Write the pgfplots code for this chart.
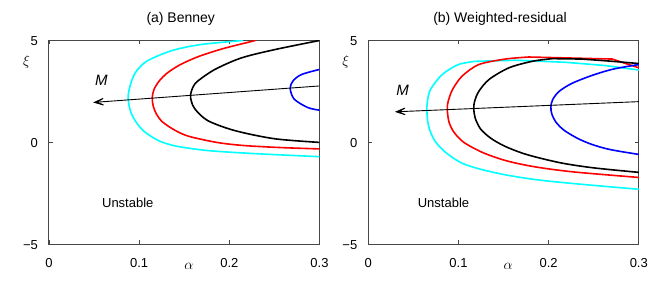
\documentclass[border=0pt]{standalone}
\usepackage{fontspec}
\setmainfont{Liberation Sans}
\usepackage{pgfplots}
\pgfplotsset{compat=1.18}
\usetikzlibrary{arrows.meta}
\definecolor{mcyan}{rgb}{0,1,1}
\definecolor{mred}{rgb}{1,0,0}
\definecolor{mblue}{rgb}{0,0,1}

\pgfplotsset{
  myax/.style={
    scale only axis, width=270.5pt, height=203.8pt,
    xmin=0, xmax=0.3, ymin=-5, ymax=5,
    xtick={0,0.1,0.2,0.3}, xticklabels={0,0.1,0.2,0.3},
    ytick={-5,0,5}, yticklabels={−5,0,5},
    tick label style={font=\fontsize{13}{15}\selectfont},
    xticklabel style={yshift=-11pt},
    yticklabel style={xshift=-7.5pt, yshift=-1pt},
    major tick length=4pt,
    axis line style={draw=black!72, line width=1pt},
    every tick/.style={black!72, line width=0.8pt},
    xlabel={$\alpha$}, ylabel={$\xi$},
    label style={font=\fontsize{15}{17}\selectfont},
    xlabel style={at={(axis description cs:0.517,-0.107)}, anchor=center},
    ylabel style={at={(axis description cs:-0.083,0.893)}, rotate=-90, anchor=center},
    title style={at={(axis description cs:0.5,1)}, anchor=base, yshift=12.3pt, xshift=-3.5pt,
                 font=\fontsize{14}{16}\selectfont},
    clip=true,
  },
  crv/.style={line width=1.6pt, smooth, tension=0.5},
  seg/.style={line width=1.6pt},
  arr/.style={black, line width=0.9pt, -{Stealth[length=16pt, width=12pt, inset=11pt]}},
}

\begin{document}
\begin{tikzpicture}
\useasboundingbox (0,0) rectangle (665pt,294pt);

% ---------------- (a) Benney ----------------
\begin{axis}[myax, at={(49pt,49.7pt)}, anchor=south west, title={(a) Benney}]
\addplot[mcyan, crv] coordinates {
 (0.215,5.0) (0.168,4.8) (0.136,4.5) (0.109,4.0) (0.097,3.5) (0.0915,3.0)
 (0.0885,2.5) (0.0878,2.2) (0.0888,1.8) (0.0915,1.4) (0.0965,1.0) (0.104,0.6)
 (0.113,0.3) (0.125,0.02) (0.143,-0.2) (0.176,-0.4) (0.228,-0.55) (0.300,-0.70)};
\addplot[mred, crv] coordinates {
 (0.229,5.0) (0.193,4.6) (0.165,4.2) (0.145,3.8) (0.131,3.4) (0.122,3.0)
 (0.1165,2.6) (0.1145,2.2) (0.1155,1.8) (0.119,1.4) (0.126,1.0) (0.1395,0.6)
 (0.155,0.3) (0.186,0.0) (0.215,-0.15) (0.255,-0.25) (0.300,-0.32)};
\addplot[black, crv] coordinates {
 (0.300,5.0) (0.250,4.55) (0.213,4.14) (0.184,3.58) (0.165,3.01) (0.1595,2.7)
 (0.157,2.33) (0.158,2.0) (0.162,1.63) (0.176,1.07) (0.206,0.58) (0.250,0.18)
 (0.300,0.0)};
\addplot[mblue, crv] coordinates {
 (0.300,3.58) (0.280,3.33) (0.2705,3.01) (0.2675,2.64) (0.272,2.12)
 (0.287,1.71) (0.300,1.58)};
\addplot[arr] coordinates {(0.3,2.77) (0.049,1.96)};
\node[font=\fontsize{15}{17}\selectfont\itshape] at (axis cs:0.058,3.06) {M};
\node[anchor=base west, font=\fontsize{13}{15}\selectfont] at (axis cs:0.055,-3.19) {Unstable};
\end{axis}

% ---------------- (b) Weighted-residual ----------------
\begin{axis}[myax, at={(368.3pt,49.7pt)}, anchor=south west, title={(b) Weighted-residual}]
% cyan
\addplot[mcyan, crv] coordinates {
 (0.119,3.98) (0.100,3.82) (0.082,3.33) (0.069,2.6) (0.0655,2.0) (0.065,1.55)
 (0.066,1.0) (0.069,0.5) (0.075,0.0) (0.086,-0.5) (0.103,-1.0) (0.123,-1.3)
 (0.153,-1.6) (0.190,-1.85) (0.235,-2.05) (0.300,-2.30)};
\addplot[mcyan, seg] coordinates {
 (0.119,3.98) (0.163,4.03) (0.219,3.93) (0.263,3.77) (0.300,3.55)};
% red
\addplot[mred, crv] coordinates {
 (0.178,4.19) (0.152,4.09) (0.1226,3.82) (0.104,3.25) (0.0935,2.6) (0.0885,2.0)
 (0.0876,1.6) (0.0895,1.0) (0.095,0.5) (0.106,0.0) (0.127,-0.5) (0.153,-0.9)
 (0.185,-1.2) (0.228,-1.45) (0.300,-1.72)};
\addplot[mred, seg] coordinates {
 (0.178,4.19) (0.2705,4.09) (0.300,3.66)};
% black
\addplot[black, crv] coordinates {
 (0.204,4.11) (0.182,3.98) (0.156,3.66) (0.134,3.09) (0.1225,2.5) (0.1178,2.0)
 (0.117,1.65) (0.1185,1.2) (0.1245,0.66) (0.136,0.2) (0.152,-0.2) (0.176,-0.6)
 (0.213,-1.0) (0.250,-1.25) (0.300,-1.47)};
\addplot[black, seg] coordinates {
 (0.204,4.11) (0.237,4.09) (0.2705,3.98) (0.300,3.87)};
% blue
\addplot[mblue, crv] coordinates {
 (0.300,3.82) (0.272,3.6) (0.249,3.3) (0.226,2.9) (0.2115,2.5) (0.2045,2.1)
 (0.2025,1.75) (0.2035,1.4) (0.208,1.0) (0.217,0.6) (0.232,0.2) (0.248,-0.1)
 (0.268,-0.35) (0.300,-0.59)};
\addplot[arr] coordinates {(0.3,2.0) (0.0295,1.50)};
\node[font=\fontsize{15}{17}\selectfont\itshape] at (axis cs:0.038,2.57) {M};
\node[anchor=base west, font=\fontsize{13}{15}\selectfont] at (axis cs:0.051,-3.19) {Unstable};
\end{axis}
\end{tikzpicture}
\end{document}
